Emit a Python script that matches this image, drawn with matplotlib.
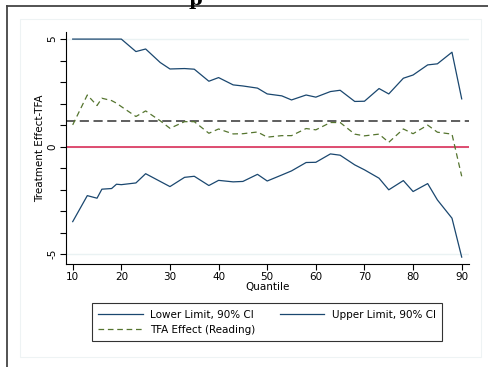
import matplotlib
matplotlib.use("Agg")
import matplotlib.pyplot as plt
from matplotlib.lines import Line2D
from matplotlib.patches import Rectangle

# quantiles and estimates
quantile = [10, 13, 15, 16, 18, 19, 20, 23, 25, 28, 30, 33, 35, 38, 40, 43, 45,
            48, 50, 53, 55, 58, 60, 63, 65, 68, 70, 73, 75, 78, 80, 83, 85, 88, 90]
upper = [5.0, 5.0, 5.0, 5.0, 5.0, 5.0, 5.0, 4.42, 4.54, 3.91, 3.61, 3.63, 3.60, 3.04, 3.21, 2.87, 2.82,
         2.72, 2.45, 2.36, 2.17, 2.40, 2.30, 2.56, 2.62, 2.10, 2.11, 2.70, 2.45, 3.18, 3.33, 3.80, 3.85, 4.39, 2.22]
lower = [-3.49, -2.28, -2.40, -1.98, -1.95, -1.75, -1.77, -1.69, -1.26, -1.62, -1.86, -1.43, -1.38, -1.81, -1.57, -1.64, -1.62,
         -1.29, -1.60, -1.32, -1.13, -0.74, -0.73, -0.34, -0.40, -0.85, -1.08, -1.47, -2.01, -1.58, -2.09, -1.72, -2.48, -3.33, -5.14]
tfa = [1.01, 2.40, 1.91, 2.25, 2.14, 2.02, 1.86, 1.40, 1.66, 1.20, 0.85, 1.16, 1.16, 0.62, 0.82, 0.59, 0.60,
       0.68, 0.44, 0.51, 0.51, 0.84, 0.78, 1.12, 1.12, 0.58, 0.50, 0.58, 0.20, 0.82, 0.60, 1.00, 0.67, 0.58, -1.38]
mean_effect = 1.21

navy = "#1a476f"
green = "#55752f"

fig = plt.figure(figsize=(4.88, 3.67), dpi=100)
fig.patch.set_facecolor("white")

# outer frame (cropped) and faint graph region box
fig.add_artist(Line2D([7 / 488, 7 / 488], [0, 1 - 6 / 367], color="#444444", lw=1.3))
fig.add_artist(Line2D([7 / 488, 1], [1 - 6 / 367, 1 - 6 / 367], color="#444444", lw=1.3))
fig.add_artist(Rectangle((20 / 488, 1 - 357 / 367), 461 / 488, 338 / 367,
                         fill=False, edgecolor="#eef3f4", lw=0.8))
# title of the figure, cropped off at the top edge in the original
fig.text(195 / 488, 1.0, "p", ha="center", va="center", fontsize=14,
         fontweight="bold", family="DejaVu Serif")

ax = fig.add_axes([66 / 488, 1 - 264 / 367, 403 / 488, 232 / 367])
ax.set_xlim(8.62, 91.5)
ax.set_ylim(-5.46, 5.33)

for g in [-5, 0, 5]:
    ax.axhline(g, color="#eaf2f3", lw=1.0, zorder=0)

ax.axhline(0, color="#d81e4b", lw=1.1, zorder=1)
ax.axhline(mean_effect, color="#333333", lw=1.1, dashes=(6, 3), zorder=1)

ax.plot(quantile, lower, color=navy, lw=0.9, label="Lower Limit, 90% CI")
ax.plot(quantile, upper, color=navy, lw=0.9, label="Upper Limit, 90% CI")
ax.plot(quantile, tfa, color=green, lw=0.9, dashes=(4.5, 3), label="TFA Effect (Reading)")

for s in ["top", "right"]:
    ax.spines[s].set_visible(False)
for s in ["left", "bottom"]:
    ax.spines[s].set_color("black")
    ax.spines[s].set_linewidth(0.8)

ax.set_xticks(range(10, 91, 10))
ax.set_yticks(range(-5, 6))
ax.set_yticklabels(["-5", "", "", "", "", "0", "", "", "", "", "5"],
                   rotation=90, va="center")
ax.tick_params(axis="both", length=4, width=0.8, labelsize=7.5, pad=2)
ax.set_xlabel("Quantile", fontsize=7.5, labelpad=0)
ax.set_ylabel("Treatment Effect-TFA", fontsize=7.5, labelpad=2)

h, l = ax.get_legend_handles_labels()
order = [0, 2, 1]
fig.legend([h[i] for i in order], [l[i] for i in order], ncol=2,
           loc="lower left", bbox_to_anchor=(92 / 488, 1 - 341 / 367, 350 / 488, 39 / 367),
           mode="expand", fontsize=7.5, frameon=True, fancybox=False,
           edgecolor="black", handlelength=4.3, handletextpad=0.7,
           borderaxespad=0, labelspacing=0.5, borderpad=0.6, columnspacing=1.5)
fig.legends[0].get_frame().set_linewidth(0.8)

fig.savefig("out.png", dpi=100)
